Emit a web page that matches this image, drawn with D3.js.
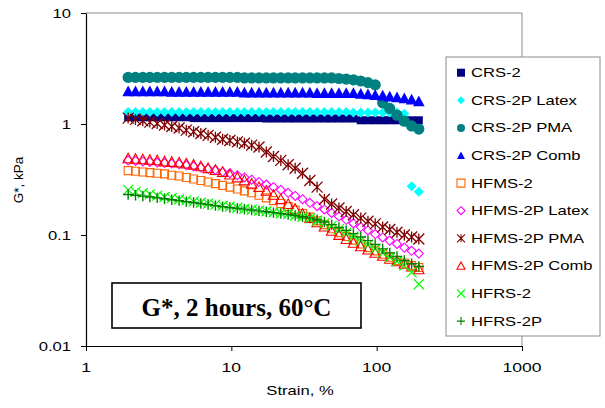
<!DOCTYPE html>
<html>
<head>
<meta charset="utf-8">
<script src="https://cdn.jsdelivr.net/npm/d3@7"></script>
<style>
  html, body { margin: 0; padding: 0; background: #fff; }
  svg { display: block; }
</style>
</head>
<body>
<svg id="chart" width="605" height="408"></svg>
<script>
// Strain sweep points (%), shared by all binders
const strain = [1.95, 2.19, 2.46, 2.75, 3.09, 3.47, 3.89, 4.37, 4.90, 5.50,
  6.17, 6.92, 7.77, 8.71, 9.77, 11.0, 12.3, 13.8, 15.5, 17.4,
  19.5, 21.9, 24.6, 27.5, 30.9, 34.7, 38.9, 43.7, 49.0, 55.0,
  61.7, 69.2, 77.7, 87.1, 97.7, 110, 123, 138, 155, 174, 195];

// G* (kPa) for each residue
const crs2 = [1.15, 1.15, 1.15, 1.15, 1.15, 1.15, 1.15, 1.15, 1.15, 1.13,
  1.13, 1.13, 1.13, 1.13, 1.13, 1.13, 1.13, 1.13, 1.13, 1.12,
  1.12, 1.12, 1.12, 1.12, 1.12, 1.12, 1.12, 1.12, 1.12, 1.12,
  1.12, 1.12, 1.08, 1.08, 1.08, 1.08, 1.08, 1.08, 1.08, 1.08, 1.08];
const crs2pLatex = [1.28, 1.28, 1.28, 1.28, 1.28, 1.28, 1.28, 1.28, 1.28, 1.28,
  1.28, 1.28, 1.28, 1.28, 1.28, 1.28, 1.28, 1.28, 1.28, 1.28,
  1.28, 1.28, 1.28, 1.28, 1.28, 1.28, 1.28, 1.28, 1.28, 1.28,
  1.28, 1.27, 1.27, 1.27, 1.27, 1.27, 1.27, 1.27, 1.24, 0.275, 0.245];
const crs2pPma = [2.63, 2.63, 2.63, 2.63, 2.63, 2.63, 2.63, 2.63, 2.63, 2.63,
  2.63, 2.63, 2.63, 2.63, 2.63, 2.63, 2.60, 2.60, 2.60, 2.60,
  2.60, 2.60, 2.60, 2.60, 2.60, 2.60, 2.60, 2.60, 2.60, 2.57,
  2.54, 2.50, 2.44, 2.36, 2.25, 1.55, 1.38, 1.20, 1.06, 0.96, 0.90];
const crs2pComb = [1.97, 1.97, 1.97, 1.97, 1.97, 1.97, 1.95, 1.95, 1.95, 1.95,
  1.95, 1.95, 1.95, 1.95, 1.95, 1.95, 1.92, 1.92, 1.92, 1.92,
  1.92, 1.92, 1.92, 1.92, 1.92, 1.92, 1.90, 1.90, 1.90, 1.90,
  1.90, 1.90, 1.87, 1.85, 1.82, 1.80, 1.77, 1.74, 1.70, 1.66, 1.60];
const hfms2 = [0.38, 0.375, 0.37, 0.365, 0.36, 0.355, 0.345, 0.34, 0.33, 0.32,
  0.31, 0.30, 0.29, 0.28, 0.27, 0.26, 0.25, 0.24, 0.228, 0.216,
  0.204, 0.192, 0.18, 0.168, 0.156, 0.145, 0.134, 0.124, 0.114, 0.105,
  0.097, 0.09, 0.083, 0.077, 0.072, 0.067, 0.063, 0.059, 0.056, 0.053, 0.051];
const hfms2pLatex = [0.47, 0.465, 0.46, 0.455, 0.45, 0.445, 0.44, 0.435, 0.425, 0.415,
  0.405, 0.395, 0.385, 0.37, 0.36, 0.345, 0.33, 0.315, 0.30, 0.285,
  0.27, 0.255, 0.24, 0.225, 0.21, 0.195, 0.182, 0.17, 0.158, 0.147,
  0.137, 0.127, 0.118, 0.11, 0.102, 0.095, 0.089, 0.083, 0.077, 0.072, 0.068];
const hfms2pPma = [1.13, 1.10, 1.07, 1.04, 1.01, 0.98, 0.95, 0.92, 0.88, 0.85,
  0.82, 0.79, 0.76, 0.73, 0.71, 0.69, 0.67, 0.645, 0.62, 0.56,
  0.51, 0.47, 0.43, 0.40, 0.36, 0.31, 0.27, 0.21, 0.19, 0.175,
  0.163, 0.152, 0.142, 0.133, 0.126, 0.118, 0.112, 0.106, 0.10, 0.096, 0.092];
const hfms2pComb = [0.49, 0.485, 0.48, 0.475, 0.47, 0.46, 0.455, 0.45, 0.44, 0.43,
  0.415, 0.40, 0.385, 0.37, 0.35, 0.33, 0.31, 0.29, 0.27, 0.25,
  0.23, 0.21, 0.19, 0.172, 0.155, 0.142, 0.13, 0.119, 0.109, 0.10,
  0.092, 0.085, 0.079, 0.074, 0.069, 0.065, 0.061, 0.058, 0.055, 0.052, 0.049];
const hfrs2 = [0.255, 0.245, 0.238, 0.232, 0.226, 0.22, 0.215, 0.21, 0.205, 0.20,
  0.196, 0.192, 0.188, 0.184, 0.18, 0.176, 0.172, 0.169, 0.166, 0.163,
  0.16, 0.157, 0.154, 0.15, 0.146, 0.141, 0.135, 0.128, 0.121, 0.113,
  0.105, 0.097, 0.089, 0.082, 0.075, 0.069, 0.063, 0.058, 0.053, 0.046, 0.036];
const hfrs2p = [0.232, 0.228, 0.224, 0.22, 0.216, 0.212, 0.208, 0.204, 0.20, 0.196,
  0.192, 0.188, 0.184, 0.18, 0.177, 0.174, 0.171, 0.168, 0.165, 0.162,
  0.159, 0.156, 0.153, 0.15, 0.146, 0.142, 0.137, 0.131, 0.124, 0.117,
  0.11, 0.103, 0.096, 0.089, 0.082, 0.075, 0.069, 0.064, 0.059, 0.055, 0.052];

const seriesNames = ["CRS-2", "CRS-2P Latex", "CRS-2P PMA", "CRS-2P Comb", "HFMS-2",
  "HFMS-2P Latex", "HFMS-2P PMA", "HFMS-2P Comb", "HFRS-2", "HFRS-2P"];

const xTicks = [1, 10, 100, 1000];
const xTickLabels = ["1", "10", "100", "1000"];
const yTicks = [0.01, 0.1, 1, 10];
const yTickLabels = ["0.01", "0.1", "1", "10"];

const xTitle = "Strain, %";
const yTitle = "G*, kPa";
const noteText = "G*, 2 hours, 60\u00B0C";

// ---- marker shapes (size argument = half-width in px) ----
const shapes = {
  square: { draw(c, r) { c.rect(-r, -r, 2 * r, 2 * r); } },
  diamond: { draw(c, r) { c.moveTo(0, -r); c.lineTo(r, 0); c.lineTo(0, r); c.lineTo(-r, 0); c.closePath(); } },
  circle: { draw(c, r) { c.moveTo(r, 0); c.arc(0, 0, r, 0, 2 * Math.PI); } },
  triangle: { draw(c, r) { c.moveTo(0, -r); c.lineTo(r, r * 0.85); c.lineTo(-r, r * 0.85); c.closePath(); } },
  cross: { draw(c, r) { c.moveTo(-r, -r); c.lineTo(r, r); c.moveTo(r, -r); c.lineTo(-r, r); } },
  plus: { draw(c, r) { c.moveTo(-r, 0); c.lineTo(r, 0); c.moveTo(0, -r); c.lineTo(0, r); } },
  star: { draw(c, r) { c.moveTo(-r, -r); c.lineTo(r, r); c.moveTo(r, -r); c.lineTo(-r, r); c.moveTo(0, -r); c.lineTo(0, r); } }
};

const seriesValues = [crs2, crs2pLatex, crs2pPma, crs2pComb, hfms2,
  hfms2pLatex, hfms2pPma, hfms2pComb, hfrs2, hfrs2p];
const seriesStyle = [
  { shape: "square",   r: 4,   fill: "#000080", stroke: "none",    sw: 0 },
  { shape: "diamond",  r: 5,   fill: "#00ffff", stroke: "none",    sw: 0 },
  { shape: "circle",   r: 5.6, fill: "#008080", stroke: "none",    sw: 0 },
  { shape: "triangle", r: 5.8, fill: "#0000ff", stroke: "none",    sw: 0 },
  { shape: "square",   r: 4,   fill: "none",    stroke: "#ff6600", sw: 1.1 },
  { shape: "diamond",  r: 4.5, fill: "none",    stroke: "#ff00ff", sw: 1.1 },
  { shape: "star",     r: 5.5, fill: "none",    stroke: "#800000", sw: 1.3 },
  { shape: "triangle", r: 5.2, fill: "none",    stroke: "#ff0000", sw: 1.1 },
  { shape: "cross",    r: 5,   fill: "none",    stroke: "#00ff00", sw: 1.2 },
  { shape: "plus",     r: 5.2, fill: "none",    stroke: "#008000", sw: 1.4 }
];
const series = seriesNames.map((name, i) => ({
  name, style: seriesStyle[i],
  points: strain.map((s, j) => ({ x: s, y: seriesValues[i][j] }))
}));

// ---- layout ----
const svg = d3.select("#chart");
const plot = { left: 86, right: 522, top: 13, bottom: 346 };
const x = d3.scaleLog().domain([1, 1000]).range([plot.left, plot.right]);
const y = d3.scaleLog().domain([0.01, 10]).range([plot.bottom, plot.top]);

const sans = "'Liberation Sans', Arial, sans-serif";
const serif = "'Liberation Serif', 'Times New Roman', serif";

// Arial-style text drawn a little wide
function wideText(g, str, tx, ty, anchor, size, sx) {
  return g.append("text")
    .attr("transform", `translate(${tx},${ty}) scale(${sx},1)`)
    .attr("text-anchor", anchor)
    .attr("font-family", sans)
    .attr("font-size", size)
    .attr("fill", "#000")
    .text(str);
}

// frame: top and right edges in grey
svg.append("path")
  .attr("d", `M${plot.left},${plot.top}H${plot.right}V${plot.bottom}`)
  .attr("fill", "none").attr("stroke", "#8c8c8c").attr("stroke-width", 1);

// axes
const xAxis = d3.axisBottom(x).tickValues(xTicks).tickFormat(() => "").tickSize(5).tickSizeOuter(0);
const yAxis = d3.axisLeft(y).tickValues(yTicks).tickFormat(() => "").tickSize(5).tickSizeOuter(0);
const gx = svg.append("g").attr("transform", `translate(0,${plot.bottom})`).call(xAxis);
const gy = svg.append("g").attr("transform", `translate(${plot.left},0)`).call(yAxis);
[gx, gy].forEach(g => {
  g.select(".domain").attr("stroke", "#000").attr("stroke-width", 1.2);
  g.selectAll(".tick line").attr("stroke", "#000");
});

const labels = svg.append("g");
xTicks.forEach((t, i) => wideText(labels, xTickLabels[i], x(t), 372, "middle", 13.5, 1.3));
yTicks.forEach((t, i) => wideText(labels, yTickLabels[i], 71, y(t) + 4.8, "end", 13, 1.28));
wideText(labels, xTitle, 300, 395, "middle", 12.5, 1.33);
labels.append("text")
  .attr("transform", `translate(23,180) rotate(-90)`)
  .attr("text-anchor", "middle")
  .attr("font-family", sans).attr("font-size", 13.5)
  .text(yTitle);

// data markers
const symbolGen = d3.symbol();
const marks = svg.append("g");
series.forEach(s => {
  const st = s.style;
  marks.append("g")
    .selectAll("path")
    .data(s.points.filter(p => p.y != null))
    .join("path")
    .attr("transform", p => `translate(${x(p.x)},${y(p.y)})`)
    .attr("d", symbolGen.type(shapes[st.shape]).size(st.r)())
    .attr("fill", st.fill)
    .attr("stroke", st.stroke)
    .attr("stroke-width", st.sw);
});

// annotation box
const note = svg.append("g");
note.append("rect")
  .attr("x", 112).attr("y", 283).attr("width", 249).attr("height", 45)
  .attr("fill", "#fff").attr("stroke", "#000").attr("stroke-width", 1.6);
note.append("text")
  .attr("x", 236.5).attr("y", 316)
  .attr("text-anchor", "middle")
  .attr("font-family", serif).attr("font-weight", "bold").attr("font-size", 25)
  .text(noteText);

// legend
const legend = svg.append("g");
legend.append("rect")
  .attr("x", 446).attr("y", 57).attr("width", 154).attr("height", 279)
  .attr("fill", "#fff").attr("stroke", "#8c8c8c").attr("stroke-width", 1);
series.forEach((s, i) => {
  const cy = 72.7 + i * 27.6;
  const st = s.style;
  legend.append("path")
    .attr("transform", `translate(461,${cy})`)
    .attr("d", symbolGen.type(shapes[st.shape]).size(Math.min(st.r, 4))())
    .attr("fill", st.fill).attr("stroke", st.stroke).attr("stroke-width", Math.min(st.sw, 1.1));
  wideText(legend, s.name, 471, cy + 4.5, "start", 12.5, 1.33);
});
</script>
</body>
</html>
